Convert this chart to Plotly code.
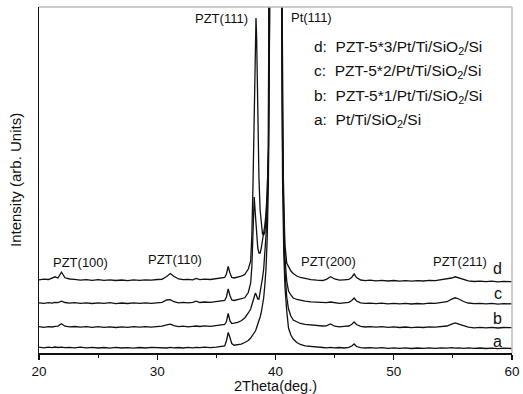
import plotly.graph_objects as go

# 2-theta grid (deg), shared by all four scans
two_theta = [
    20.0, 20.4, 20.8, 21.1, 21.35, 21.6, 21.9, 22.2, 22.6,
    23.0, 23.5, 24.0, 24.5, 25.0, 25.5, 26.0, 26.5, 27.0, 27.5, 28.0, 28.5, 29.0, 29.5, 30.0,
    30.4, 30.8, 31.1, 31.4, 31.8, 32.2, 32.6, 33.0, 33.3, 33.6, 34.0, 34.5, 35.0, 35.4,
    35.7, 35.85, 36.0, 36.15, 36.3, 36.5, 36.8, 37.1, 37.4, 37.7,
    37.9, 38.0, 38.1, 38.2, 38.3, 38.35, 38.4, 38.5, 38.6, 38.7, 38.8, 38.9, 39.0,
    39.1, 39.2, 39.3, 39.4, 39.5, 39.6, 39.8, 40.0, 40.2, 40.4, 40.5,
    40.6, 40.7, 40.8, 40.95, 41.1, 41.3, 41.5, 41.8, 42.1, 42.5, 43.0, 43.5, 44.0,
    44.3, 44.65, 45.0, 45.4, 45.8, 46.2, 46.45, 46.65, 46.85, 47.2, 47.6, 48.0,
    48.5, 49.0, 49.5, 50.0, 50.5, 51.0, 51.5, 52.0, 52.5, 53.0, 53.5, 54.0, 54.5,
    54.9, 55.2, 55.5, 55.9, 56.3, 56.8, 57.3, 57.8, 58.3, 58.8, 59.3, 60.0,
]

# a: Pt/Ti/SiO2/Si
scan_a = [
    5.8, 5.2, 5.9, 5.4, 6.0, 5.5, 5.9, 5.3, 5.6,
    5.2, 5.8, 5.1, 5.6, 5.0, 5.5, 4.9, 5.6, 5.0, 5.4, 4.8, 5.5, 5.0, 5.6, 5.1,
    5.4, 5.0, 5.6, 5.1, 5.5, 5.0, 5.6, 5.2, 5.7, 5.3, 5.8, 5.4, 5.9, 6.2,
    7.0, 12.0, 20.5, 15.5, 9.5, 7.8, 8.3, 8.8, 10.5, 12.5,
    15, 16.5, 18, 20, 22, 23.5, 25, 28, 32, 36, 41, 47, 55,
    68, 85, 115, 170, 330, 560, 1300, 2600, 1400, 600, 400,
    170, 100, 66, 42, 25, 18, 14, 10.5, 8.5, 7.2, 6.4, 5.9, 5.5,
    5.2, 5.7, 5.1, 5.5, 5.0, 5.6, 7.0, 9.0, 6.5, 5.3, 5.0, 5.4,
    4.8, 5.3, 4.7, 5.2, 4.6, 5.1, 4.5, 5.0, 4.6, 5.1, 4.7, 5.2, 4.8,
    5.3, 4.8, 5.2, 4.7, 5.1, 4.6, 5.0, 4.5, 4.9, 4.4, 4.8, 4.5,
]

# b: PZT-5*1/Pt/Ti/SiO2/Si
scan_b = [
    26.3, 25.7, 26.4, 26.0, 26.6, 26.9, 29.2, 26.8, 26.1,
    26.5, 25.8, 26.4, 25.7, 26.3, 25.6, 26.2, 25.5, 26.1, 25.7, 26.4, 25.8, 26.3, 25.9, 26.6,
    26.8, 28.2, 28.8, 27.4, 26.3, 26.8, 26.2, 26.7, 27.0, 26.5, 27.1, 26.7, 27.3, 27.8,
    28.5, 31.5, 39.5, 32.0, 29.5, 29.8, 30.6, 32.2, 35.0, 40.0,
    44, 48, 53, 58, 60, 59, 57, 54, 54, 60, 67, 75, 84,
    100, 118, 145, 190, 340, 570, 1310, 2610, 1410, 610, 410,
    195, 120, 82, 56, 44, 37, 33, 31, 29.5, 28.6, 28.0, 27.4, 27.0,
    27.2, 29.0, 26.8, 26.2, 26.6, 27.0, 28.8, 31.0, 28.5, 26.6, 26.0, 26.4,
    25.8, 26.3, 25.6, 26.1, 25.5, 26.0, 25.4, 25.9, 25.5, 26.1, 25.8, 26.4, 27.0,
    28.8, 30.0, 28.9, 27.0, 25.8, 25.2, 25.7, 25.1, 25.6, 25.0, 25.5, 25.3,
]

# c: PZT-5*2/Pt/Ti/SiO2/Si
scan_c = [
    50.2, 49.6, 50.3, 49.8, 50.6, 50.4, 51.8, 50.5, 49.9,
    50.3, 49.7, 50.2, 49.5, 50.1, 49.6, 50.3, 49.4, 50.0, 49.5, 50.2, 49.6, 50.1, 49.7, 50.4,
    50.6, 53.0, 53.4, 51.3, 50.2, 50.7, 50.1, 50.6, 51.8, 50.5, 51.0, 50.7, 51.3, 51.9,
    52.5, 56.0, 64.0, 57.5, 53.0, 52.5, 53.2, 54.0, 55.2, 60.5,
    70, 86, 115, 156, 138, 126, 116, 105, 100, 100, 105, 112, 122,
    128, 140, 162, 205, 350, 580, 1320, 2620, 1420, 620, 420,
    205, 135, 95, 72, 62, 58, 55, 53.5, 52.5, 51.8, 51.2, 50.8, 50.5,
    50.3, 51.0, 50.0, 49.6, 50.1, 50.6, 52.5, 55.0, 52.0, 50.2, 49.6, 49.9,
    49.4, 49.9, 49.2, 49.7, 49.1, 49.6, 49.0, 49.5, 49.2, 49.8, 49.6, 50.4, 51.3,
    53.8, 55.2, 54.0, 51.5, 50.0, 49.3, 49.7, 49.1, 49.6, 48.9, 49.4, 49.1,
]

# d: PZT-5*3/Pt/Ti/SiO2/Si
scan_d = [
    73.2, 73.8, 73.5, 74.6, 76.2, 75.0, 80.8, 75.2, 74.0,
    73.6, 72.9, 73.4, 72.7, 73.3, 72.6, 73.1, 72.5, 73.0, 72.4, 73.1, 72.6, 73.2, 72.8, 73.5,
    73.6, 76.5, 79.5, 76.8, 74.0, 73.3, 73.7, 73.2, 74.6, 73.4, 73.9, 73.5, 74.1, 74.8,
    75.5, 79.0, 86.5, 80.0, 75.5, 75.0, 75.6, 76.8, 78.5, 84.0,
    92, 118, 170, 255, 322, 335, 318, 235, 175, 143, 126, 119, 118,
    121, 135, 158, 205, 355, 585, 1325, 2625, 1425, 625, 425,
    215, 150, 108, 90, 86, 82, 79.5, 77, 75.5, 74.2, 73.3, 72.8, 72.5,
    73.6, 76.2, 74.0, 72.8, 73.2, 73.6, 75.8, 79.0, 75.5, 73.0, 72.4, 72.8,
    72.2, 72.7, 72.0, 72.5, 71.9, 72.4, 71.8, 72.3, 72.0, 72.6, 72.4, 73.2, 74.0,
    75.0, 76.2, 75.2, 73.4, 72.2, 71.5, 71.9, 71.3, 71.8, 71.2, 71.6, 71.3,
]

for name, s in (("a", scan_a), ("b", scan_b), ("c", scan_c), ("d", scan_d)):
    if len(s) != len(two_theta):
        raise ValueError(f"scan {name}: {len(s)} vs {len(two_theta)}")

x_ticks = [20, 30, 40, 50, 60]
legend_lines = [
    "d:  PZT-5*3/Pt/Ti/SiO<sub>2</sub>/Si",
    "c:  PZT-5*2/Pt/Ti/SiO<sub>2</sub>/Si",
    "b:  PZT-5*1/Pt/Ti/SiO<sub>2</sub>/Si",
    "a:  Pt/Ti/SiO<sub>2</sub>/Si",
]
peak_labels = ["PZT(100)", "PZT(110)", "PZT(111)", "Pt(111)", "PZT(200)", "PZT(211)"]
peak_label_x = [23.55, 31.5, 35.45, 43.05, 44.45, 55.6]
peak_label_y = [91, 94, 335, 336, 92, 92]
curve_letters = ["d", "c", "b", "a"]
curve_letter_y = [85, 60, 35, 12]

FONT = "Liberation Sans, Arial, sans-serif"
INK = "#111111"

fig = go.Figure()
for s in (scan_a, scan_b, scan_c, scan_d):
    fig.add_trace(go.Scatter(x=two_theta, y=s, mode="lines",
                             line=dict(color=INK, width=1.3),
                             showlegend=False, hoverinfo="skip"))

annotations = []
for t, px, py in zip(peak_labels, peak_label_x, peak_label_y):
    annotations.append(dict(x=px, y=py, xref="x", yref="y", text=t, showarrow=False,
                            font=dict(size=13, color=INK, family=FONT)))
for i, t in enumerate(legend_lines):
    annotations.append(dict(x=43.1, y=306 - i * 24.5, xref="x", yref="y", text=t,
                            showarrow=False, xanchor="left",
                            font=dict(size=15.5, color=INK, family=FONT)))
for t, py in zip(curve_letters, curve_letter_y):
    annotations.append(dict(x=58.8, y=py, xref="x", yref="y", text=t, showarrow=False,
                            font=dict(size=16, color=INK, family=FONT)))
# axis titles
annotations.append(dict(x=0.5, y=0, xref="paper", yref="paper", yanchor="middle",
                        yshift=-33, text="2Theta(deg.)", showarrow=False,
                        font=dict(size=14.5, color=INK, family=FONT)))
annotations.append(dict(x=0, y=0.5, xref="paper", yref="paper", xanchor="center",
                        xshift=-24, textangle=-90, text="Intensity (arb. Units)",
                        showarrow=False, font=dict(size=15, color=INK, family=FONT)))

fig.update_layout(
    width=523, height=394,
    margin=dict(l=39, r=11, t=7, b=41),
    paper_bgcolor="white", plot_bgcolor="white",
    font=dict(family=FONT, color=INK),
    annotations=annotations,
    shapes=[
        dict(type="line", xref="paper", yref="paper", x0=0, x1=1, y0=1, y1=1,
             line=dict(color="#bbbbbb", width=1.5)),
        dict(type="line", xref="paper", yref="paper", x0=1, x1=1, y0=0, y1=1,
             line=dict(color="#bbbbbb", width=1.5)),
    ],
    xaxis=dict(range=[20, 60], tickvals=x_ticks, ticks="outside", ticklen=5,
               tickwidth=1.2, tickcolor=INK, showline=True, linecolor=INK,
               linewidth=1.5, showgrid=False, zeroline=False, automargin=False,
               tickfont=dict(size=13.5, family=FONT, color=INK),
               minor=dict(ticks="outside", ticklen=3, dtick=5, tickcolor=INK,
                          tickwidth=1.2, showgrid=False)),
    yaxis=dict(range=[0, 346], showticklabels=False, ticks="", showline=True,
               linecolor=INK, linewidth=1.5, showgrid=False, zeroline=False,
               automargin=False),
)

fig.write_html("out.html",
               config={"displayModeBar": False, "staticPlot": True},
               post_script="document.body.style.margin='0';"
                           "document.body.style.overflow='hidden';")
